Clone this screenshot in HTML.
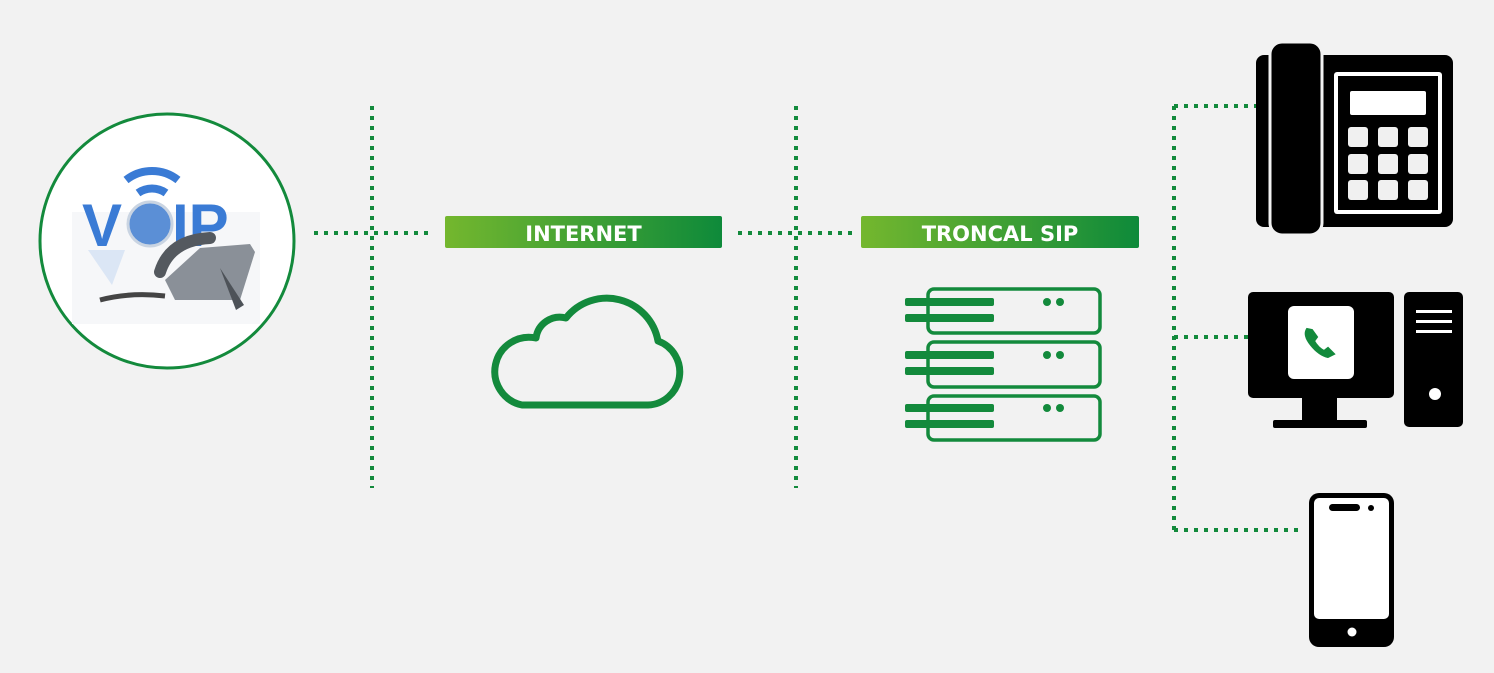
<!DOCTYPE html>
<html><head><meta charset="utf-8"><style>
html,body{margin:0;padding:0;background:#f2f2f2;}
svg{display:block;}
</style></head><body>
<svg width="1494" height="673" viewBox="0 0 1494 673" xmlns="http://www.w3.org/2000/svg">
<defs>
<linearGradient id="g" x1="0" x2="1" y1="0" y2="0">
<stop offset="0" stop-color="#74b72e"/><stop offset="1" stop-color="#0e8a3a"/>
</linearGradient>
</defs>
<rect width="1494" height="673" fill="#f2f2f2"/>
<g stroke="#138a3c" stroke-width="4" stroke-dasharray="4 6" fill="none">
<line x1="372" y1="106" x2="372" y2="488"/>
<line x1="796" y1="106" x2="796" y2="488"/>
<line x1="314" y1="233" x2="430" y2="233"/>
<line x1="738" y1="233" x2="852" y2="233"/>
<line x1="1174" y1="106" x2="1174" y2="532"/>
<line x1="1174" y1="106" x2="1256" y2="106"/>
<line x1="1174" y1="337" x2="1248" y2="337"/>
<line x1="1174" y1="530" x2="1300" y2="530"/>
</g>
<!-- VOIP circle -->
<circle cx="167" cy="241" r="127" fill="#fff" stroke="#138a3c" stroke-width="3"/>
<rect x="72" y="212" width="188" height="112" fill="#f6f7f9"/>
<path d="M126 180 A42 42 0 0 1 178 180" stroke="#3a7bd5" stroke-width="8" fill="none"/>
<path d="M138 193 A24 24 0 0 1 166 193" stroke="#3a7bd5" stroke-width="8" fill="none"/>
<text x="82" y="246" font-family="Liberation Sans,sans-serif" font-weight="bold" font-size="60" fill="#3a7bd5">V</text>
<circle cx="150" cy="224" r="22" fill="#5b8fd6" stroke="#c9d4e2" stroke-width="3"/>
<text x="172" y="246" font-family="Liberation Sans,sans-serif" font-weight="bold" font-size="60" fill="#3a7bd5">IP</text>
<path d="M88 250 L125 250 L112 285 Z" fill="#dbe6f5"/>
<path d="M165 280 L200 248 L250 244 L255 252 L240 300 L175 300 Z" fill="#8a9098"/>
<path d="M160 272 Q170 240 210 238" stroke="#54595f" stroke-width="12" fill="none" stroke-linecap="round"/>
<path d="M220 268 L244 305 L236 310 Z" fill="#4d5258"/>
<path d="M100 300 Q130 292 165 296" stroke="#444" stroke-width="5" fill="none"/>
<!-- labels -->
<rect x="445" y="216" width="277" height="32" rx="2" fill="url(#g)"/>
<text x="583.5" y="241" text-anchor="middle" font-family="DejaVu Sans,sans-serif" font-weight="bold" font-size="21" fill="#fff">INTERNET</text>
<rect x="861" y="216" width="278" height="32" rx="2" fill="url(#g)"/>
<text x="1000" y="241" text-anchor="middle" font-family="DejaVu Sans,sans-serif" font-weight="bold" font-size="21" fill="#fff">TRONCAL SIP</text>
<!-- cloud -->
<path d="M522 405 H648 A33 33 0 0 0 658 341 A52 52 0 0 0 566 318 A24 24 0 0 0 536 338 A34 34 0 0 0 522 405 Z" fill="none" stroke="#138a3c" stroke-width="7" stroke-linejoin="round"/>
<!-- server -->
<g fill="none" stroke="#138a3c" stroke-width="3.5">
<rect x="928" y="289" width="172" height="44" rx="6"/>
<rect x="928" y="342" width="172" height="45" rx="6"/>
<rect x="928" y="396" width="172" height="44" rx="6"/>
</g>
<g fill="#138a3c">
<rect x="905" y="298" width="89" height="8" rx="2"/><rect x="905" y="314" width="89" height="8" rx="2"/>
<rect x="905" y="351" width="89" height="8" rx="2"/><rect x="905" y="367" width="89" height="8" rx="2"/>
<rect x="905" y="404" width="89" height="8" rx="2"/><rect x="905" y="420" width="89" height="8" rx="2"/>
<circle cx="1047" cy="302" r="4"/><circle cx="1060" cy="302" r="4"/>
<circle cx="1047" cy="355" r="4"/><circle cx="1060" cy="355" r="4"/>
<circle cx="1047" cy="408" r="4"/><circle cx="1060" cy="408" r="4"/>
</g>
<!-- desk phone -->
<rect x="1256" y="55" width="197" height="172" rx="8" fill="#000"/>
<rect x="1270" y="42" width="52" height="193" rx="12" fill="#000" stroke="#f2f2f2" stroke-width="3"/>
<rect x="1334" y="72" width="108" height="142" rx="3" fill="#fff"/>
<rect x="1338" y="76" width="100" height="134" fill="#000"/>
<rect x="1350" y="91" width="76" height="24" rx="2" fill="#fff"/>
<g fill="#f0f0f0">
<rect x="1348" y="127" width="20" height="20" rx="3"/><rect x="1378" y="127" width="20" height="20" rx="3"/><rect x="1408" y="127" width="20" height="20" rx="3"/>
<rect x="1348" y="154" width="20" height="20" rx="3"/><rect x="1378" y="154" width="20" height="20" rx="3"/><rect x="1408" y="154" width="20" height="20" rx="3"/>
<rect x="1348" y="180" width="20" height="20" rx="3"/><rect x="1378" y="180" width="20" height="20" rx="3"/><rect x="1408" y="180" width="20" height="20" rx="3"/>
</g>
<!-- computer -->
<rect x="1248" y="292" width="146" height="106" rx="5" fill="#000"/>
<rect x="1288" y="306" width="66" height="73" rx="6" fill="#fff"/>
<path d="M1307 329 q-4 6 4 16 q8 10 17 12 l6 -3 -6 -6 -4 3 q-6 -3 -10 -10 l3 -4 -5 -7 z" fill="#138a3c" stroke="#138a3c" stroke-width="2"/>
<rect x="1302" y="396" width="35" height="24" fill="#000"/>
<rect x="1273" y="420" width="94" height="8" rx="2" fill="#000"/>
<rect x="1404" y="292" width="59" height="135" rx="5" fill="#000"/>
<g fill="#fff"><rect x="1416" y="310" width="36" height="3"/><rect x="1416" y="320" width="36" height="3"/><rect x="1416" y="330" width="36" height="3"/></g>
<circle cx="1435" cy="394" r="6" fill="#fff"/>
<!-- mobile -->
<rect x="1309" y="493" width="85" height="154" rx="10" fill="#000"/>
<rect x="1314" y="498" width="75" height="121" rx="5" fill="#fff"/>
<rect x="1329" y="504" width="31" height="7" rx="3.5" fill="#000"/>
<circle cx="1371" cy="508" r="3" fill="#000"/>
<circle cx="1352" cy="632" r="4.5" fill="#fff"/>
</svg>
</body></html>
